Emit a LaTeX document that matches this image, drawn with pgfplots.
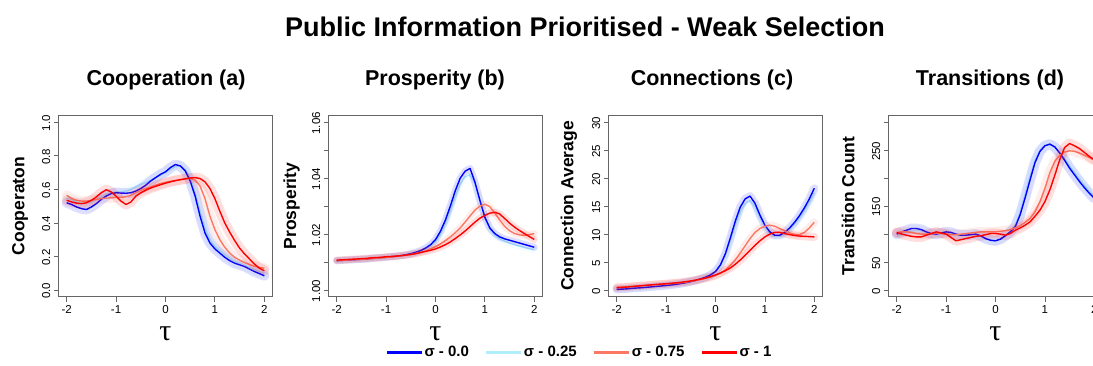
\documentclass[border=0pt]{standalone}
\usepackage{pgfplots}
\pgfplotsset{compat=1.18}
\usepackage{pgfplotstable}
\usepackage{fontspec}
\setmainfont{Liberation Sans}
\newfontfamily\greekserif{Liberation Serif}

\definecolor{sBlue}{RGB}{0,0,255}
\definecolor{sCyan}{RGB}{175,238,250}
\definecolor{sSalmon}{RGB}{250,120,100}
\definecolor{sRed}{RGB}{255,0,0}

% Cooperation level against tau, one column per sigma
\pgfplotstableread{
t s0 s25 s75 s1
-2.0 0.520 0.550 0.565 0.535
-1.9 0.510 0.540 0.545 0.525
-1.8 0.495 0.525 0.535 0.518
-1.7 0.485 0.520 0.530 0.515
-1.6 0.480 0.520 0.530 0.520
-1.5 0.495 0.525 0.535 0.535
-1.4 0.515 0.540 0.540 0.555
-1.3 0.540 0.555 0.545 0.580
-1.2 0.560 0.570 0.548 0.598
-1.1 0.575 0.580 0.550 0.585
-1.0 0.580 0.585 0.552 0.560
-0.9 0.578 0.585 0.553 0.530
-0.8 0.577 0.590 0.556 0.510
-0.7 0.580 0.600 0.565 0.525
-0.6 0.590 0.615 0.580 0.560
-0.5 0.605 0.630 0.595 0.580
-0.4 0.625 0.640 0.605 0.595
-0.3 0.650 0.655 0.615 0.608
-0.2 0.670 0.670 0.625 0.618
-0.1 0.690 0.685 0.635 0.628
0.0 0.705 0.700 0.642 0.637
0.1 0.730 0.720 0.648 0.645
0.2 0.748 0.735 0.653 0.652
0.3 0.740 0.740 0.658 0.658
0.4 0.710 0.720 0.662 0.663
0.5 0.650 0.670 0.665 0.668
0.6 0.560 0.580 0.655 0.670
0.7 0.440 0.470 0.620 0.665
0.8 0.340 0.370 0.545 0.645
0.9 0.280 0.300 0.440 0.605
1.0 0.245 0.260 0.360 0.545
1.1 0.220 0.235 0.300 0.470
1.2 0.195 0.210 0.255 0.400
1.3 0.175 0.190 0.220 0.345
1.4 0.160 0.170 0.195 0.295
1.5 0.150 0.160 0.178 0.250
1.6 0.140 0.148 0.163 0.215
1.7 0.125 0.135 0.152 0.185
1.8 0.110 0.122 0.142 0.155
1.9 0.098 0.110 0.135 0.130
2.0 0.085 0.100 0.130 0.115
}\coop

% Mean prosperity
\pgfplotstableread{
t s0 s25 s75 s1
-2.0 1.0105 1.0104 1.0105 1.0107
-1.9 1.0106 1.0105 1.0106 1.0108
-1.8 1.0107 1.0106 1.0107 1.0109
-1.7 1.0108 1.0107 1.0108 1.0110
-1.6 1.0109 1.0108 1.0109 1.0111
-1.5 1.0110 1.0109 1.0110 1.0112
-1.4 1.0111 1.0110 1.0111 1.0113
-1.3 1.0113 1.0112 1.0112 1.0115
-1.2 1.0114 1.0113 1.0114 1.0116
-1.1 1.0116 1.0115 1.0115 1.0117
-1.0 1.0117 1.0116 1.0117 1.0119
-0.9 1.0119 1.0118 1.0118 1.0120
-0.8 1.0121 1.0120 1.0120 1.0121
-0.7 1.0123 1.0122 1.0122 1.0123
-0.6 1.0126 1.0125 1.0124 1.0125
-0.5 1.0130 1.0129 1.0127 1.0127
-0.4 1.0135 1.0134 1.0131 1.0130
-0.3 1.0141 1.0140 1.0135 1.0134
-0.2 1.0150 1.0148 1.0140 1.0138
-0.1 1.0162 1.0158 1.0147 1.0142
0.0 1.0180 1.0173 1.0155 1.0147
0.1 1.0210 1.0200 1.0165 1.0154
0.2 1.0250 1.0238 1.0177 1.0162
0.3 1.0300 1.0285 1.0190 1.0172
0.4 1.0355 1.0335 1.0205 1.0184
0.5 1.0400 1.0380 1.0222 1.0197
0.6 1.0425 1.0405 1.0243 1.0211
0.7 1.0435 1.0412 1.0265 1.0227
0.8 1.0385 1.0380 1.0286 1.0243
0.9 1.0320 1.0320 1.0300 1.0257
1.0 1.0260 1.0258 1.0307 1.0267
1.1 1.0222 1.0218 1.0298 1.0275
1.2 1.0202 1.0196 1.0275 1.0278
1.3 1.0190 1.0183 1.0250 1.0272
1.4 1.0183 1.0175 1.0228 1.0256
1.5 1.0178 1.0168 1.0212 1.0239
1.6 1.0173 1.0162 1.0202 1.0225
1.7 1.0168 1.0157 1.0197 1.0213
1.8 1.0163 1.0152 1.0196 1.0202
1.9 1.0158 1.0148 1.0198 1.0191
2.0 1.0153 1.0144 1.0202 1.0181
}\prosp

% Average number of connections
\pgfplotstableread{
t s0 s25 s75 s1
-2.0 0.10 0.20 0.50 0.40
-1.9 0.15 0.25 0.55 0.45
-1.8 0.20 0.30 0.60 0.52
-1.7 0.28 0.36 0.66 0.60
-1.6 0.35 0.42 0.72 0.68
-1.5 0.40 0.48 0.78 0.76
-1.4 0.48 0.55 0.84 0.84
-1.3 0.56 0.62 0.90 0.92
-1.2 0.64 0.69 0.96 1.00
-1.1 0.72 0.77 1.02 1.06
-1.0 0.80 0.85 1.08 1.12
-0.9 0.90 0.94 1.15 1.20
-0.8 1.00 1.04 1.22 1.28
-0.7 1.15 1.17 1.30 1.38
-0.6 1.30 1.32 1.40 1.50
-0.5 1.50 1.50 1.55 1.62
-0.4 1.72 1.72 1.70 1.78
-0.3 2.00 1.98 1.88 1.95
-0.2 2.30 2.30 2.08 2.15
-0.1 2.70 2.70 2.30 2.40
0.0 3.30 3.30 2.60 2.70
0.1 4.50 4.40 3.00 3.05
0.2 6.50 6.20 3.60 3.45
0.3 9.30 8.80 4.40 3.95
0.4 12.30 11.60 5.40 4.60
0.5 14.80 14.00 6.60 5.35
0.6 16.30 15.50 7.90 6.20
0.7 16.80 16.00 9.20 7.10
0.8 15.50 14.90 10.30 8.00
0.9 13.40 12.90 11.00 8.80
1.0 11.60 11.20 11.40 9.50
1.1 10.40 10.10 11.60 10.00
1.2 9.80 9.60 11.40 10.30
1.3 9.80 9.60 11.00 10.30
1.4 10.30 10.00 10.60 10.10
1.5 11.10 10.80 10.20 9.90
1.6 12.10 11.80 9.95 9.75
1.7 13.30 12.90 9.90 9.65
1.8 14.70 14.20 10.30 9.60
1.9 16.30 15.70 11.10 9.55
2.0 18.20 17.40 12.10 9.50
}\conn

% Number of strategy transitions
\pgfplotstableread{
t s0 s25 s75 s1
-2.0 100 96 103 103
-1.9 104 100 104 100
-1.8 107 104 104 98
-1.7 110 106 103 96
-1.6 110 107 101 95
-1.5 108 106 100 95
-1.4 104 103 100 98
-1.3 101 100 101 101
-1.2 100 99 102 104
-1.1 102 101 101 102
-1.0 104 102 100 100
-0.9 103 101 99 94
-0.8 100 99 99 88
-0.7 98 98 100 90
-0.6 98 98 101 92
-0.5 99 99 102 94
-0.4 100 99 103 96
-0.3 97 96 104 97
-0.2 92 92 104 99
-0.1 89 89 104 101
0.0 88 88 104 101
0.1 91 91 105 100
0.2 97 97 106 98
0.3 104 105 108 101
0.4 113 116 111 107
0.5 135 140 115 111
0.6 165 172 121 116
0.7 197 204 128 122
0.8 228 232 140 132
0.9 248 250 158 143
1.0 258 259 182 158
1.1 261 260 210 179
1.2 256 255 230 205
1.3 245 246 241 233
1.4 232 235 247 255
1.5 218 222 249 262
1.6 206 210 248 258
1.7 194 198 245 253
1.8 183 187 241 246
1.9 173 177 237 239
2.0 164 168 232 233
}\trans

\pgfplotsset{
  panel/.style={
    scale only axis, width=213.4pt, height=181.1pt,
    xmin=-2.16, xmax=2.16,
    xtick={-2,-1,0,1,2}, xticklabels={-2,-1,0,1,2},
    tick align=outside, xtick pos=left, ytick pos=left,
    major tick length=5pt,
    axis line style={black!60, line width=0.8pt},
    tick style={black!60, line width=0.8pt},
    ticklabel style={font=\fontsize{11.5}{13}\selectfont},
    yticklabel style={rotate=90, anchor=south, xshift=-1pt},
    no markers,
  },
  band/.style={line width=#1, opacity=0.13, line join=round, line cap=round, forget plot},
  main/.style={line width=1.4pt, line join=round, forget plot},
}

% one sigma series: shaded band, then the mean line
\newcommand\series[4]{%
  \addplot[#2, band=#4] table[x=t, y=#3] {#1};
  \addplot[#2, main] table[x=t, y=#3] {#1};
}
\newcommand\allseries[2]{%
  \series{#1}{sCyan}{s25}{#2}
  \series{#1}{sBlue}{s0}{#2}
  \series{#1}{sSalmon}{s75}{#2}
  \series{#1}{sRed}{s1}{#2}
}

\begin{document}
\begin{tikzpicture}
\path[use as bounding box, clip] (0pt,0pt) rectangle (1093pt,365pt);

\begin{axis}[panel, at={(58.8pt,68.3pt)}, anchor=south west,
  ymin=-0.04, ymax=1.04,
  ytick={0,0.2,0.4,0.6,0.8,1.0}, yticklabels={0.0,0.2,0.4,0.6,0.8,1.0},
  legend style={at={(axis description cs:2.4377,-0.3054)}, anchor=center,
    draw=none, fill=none, legend columns=4,
    font=\fontsize{15}{17}\selectfont\bfseries,
    nodes={inner sep=1pt},
    /tikz/every even column/.append style={column sep=15pt}},
  legend image code/.code={\draw[#1, line width=3pt] (0pt,0pt) -- (35pt,0pt);},
]
\allseries{\coop}{10pt}
\addlegendimage{sBlue}\addlegendentry{σ - 0.0}
\addlegendimage{sCyan}\addlegendentry{σ - 0.25}
\addlegendimage{sSalmon}\addlegendentry{σ - 0.75}
\addlegendimage{sRed}\addlegendentry{σ - 1}
\end{axis}

\begin{axis}[panel, at={(328.8pt,68.3pt)}, anchor=south west,
  ymin=0.9976, ymax=1.0624,
  ytick={1.00,1.01,1.02,1.03,1.04,1.05,1.06},
  yticklabels={1.00,,1.02,,1.04,,1.06},
]
\allseries{\prosp}{7pt}
\end{axis}

\begin{axis}[panel, at={(608.8pt,68.3pt)}, anchor=south west,
  ymin=-1.2, ymax=31.2,
  ytick={0,5,10,15,20,25,30}, yticklabels={0,5,10,15,20,25,30},
]
\allseries{\conn}{8pt}
\end{axis}

\begin{axis}[panel, at={(888.8pt,68.3pt)}, anchor=south west,
  ymin=-12, ymax=312,
  ytick={0,50,100,150,200,250,300}, yticklabels={0,50,,150,,250,},
]
\allseries{\trans}{10pt}
\end{axis}

% titles and axis labels
\node[font=\fontsize{27}{30}\selectfont\bfseries] at (585pt,338pt)
  {Public Information Prioritised - Weak Selection};
\foreach \cx/\txt in {166/Cooperation (a), 435/Prosperity (b), 712/Connections (c), 990/Transitions (d)}
  \node[font=\fontsize{21.5}{24}\selectfont\bfseries] at (\cx pt,285pt) {\txt};
\foreach \cx/\txt in {20/Cooperaton, 291.7/Prosperity, 569/Connection Average, 848/Transition Count}
  \node[rotate=90, font=\fontsize{17.5}{20}\selectfont\bfseries] at (\cx pt,159pt) {\txt};
\foreach \cx in {165.5, 435.5, 715.5, 995.5}
  \node[anchor=base, inner sep=0pt, font=\greekserif\fontsize{30}{32}\selectfont] at (\cx pt,25pt) {τ};
\end{tikzpicture}
\end{document}
